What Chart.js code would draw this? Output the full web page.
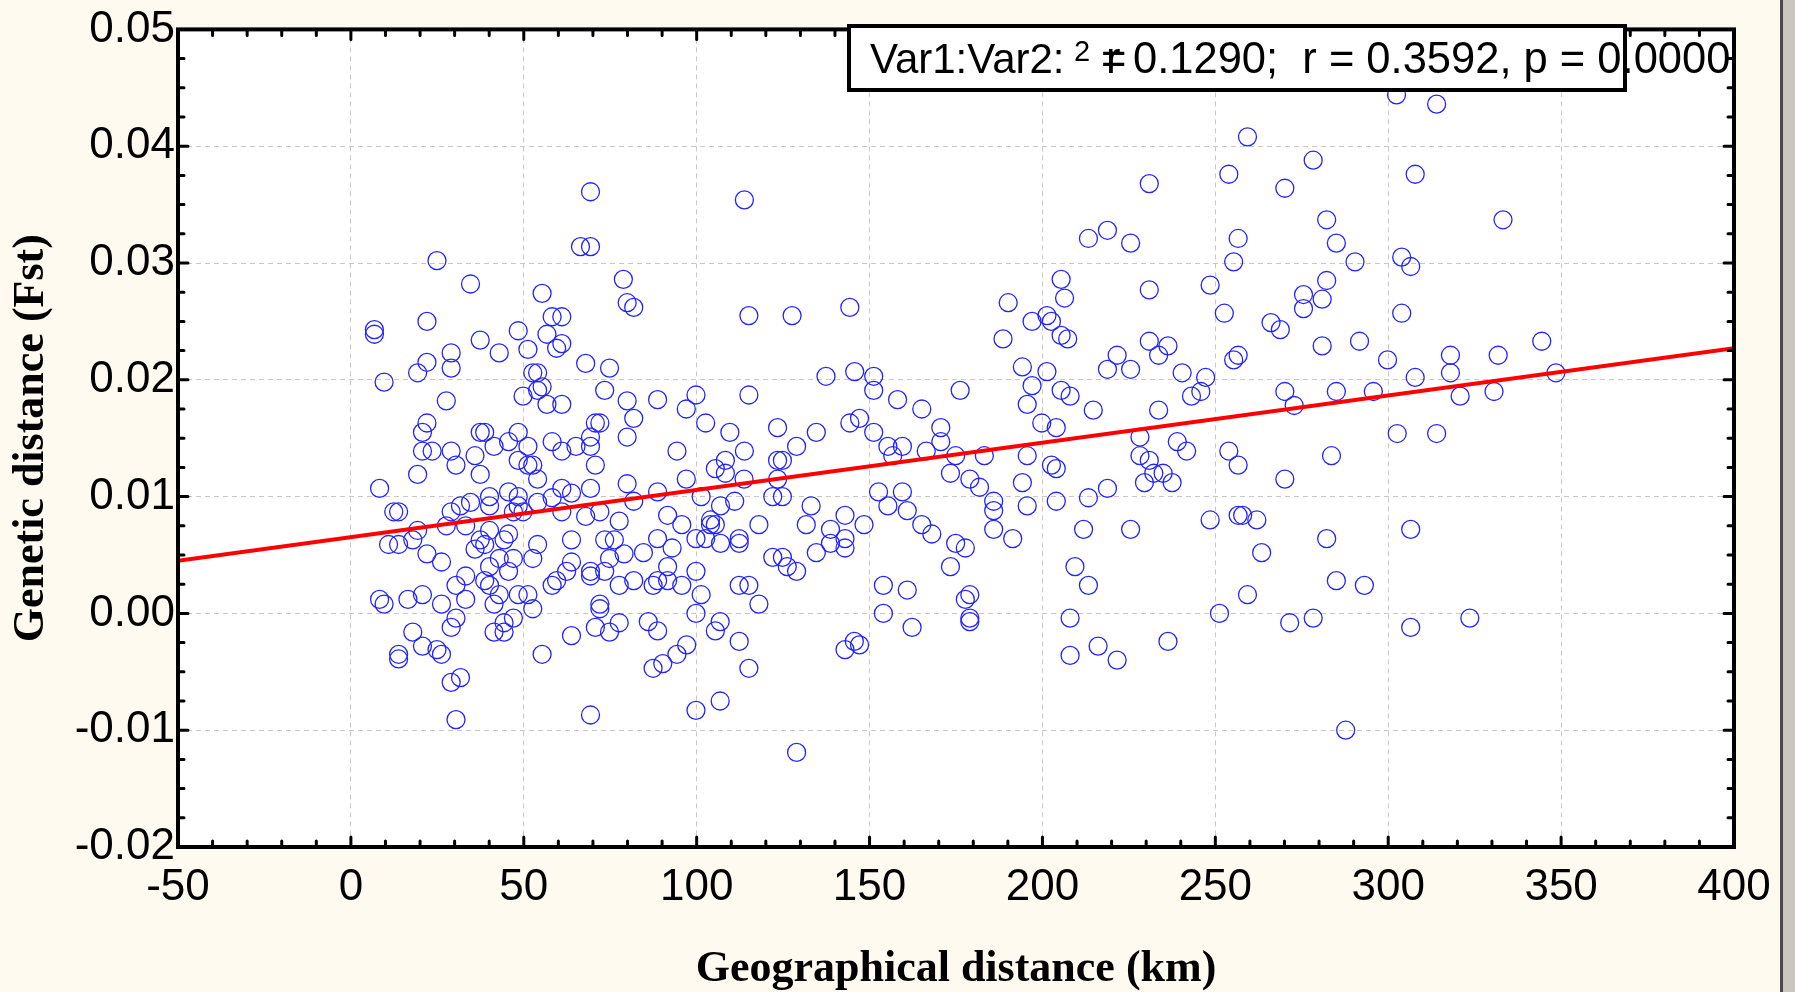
<!DOCTYPE html>
<html>
<head>
<meta charset="utf-8">
<script src="https://cdn.jsdelivr.net/npm/chart.js@4.4.1/dist/chart.umd.min.js"></script>
<style>
  html, body { margin: 0; padding: 0; background: #fffaf0; }
  #wrap { position: relative; width: 1795px; height: 992px; overflow: hidden; }
  #strip { position: absolute; left: 1780px; top: 0; width: 12px; height: 992px;
           background: #cbc6be; border-left: 3px solid #4a4a4a; }
</style>
</head>
<body>
<div id="wrap">
  <canvas id="chart" width="1795" height="992"></canvas>
  <div id="strip"></div>
</div>
<script>
// ── Data ───────────────────────────────────────────────────────────
// Geographical distance (km)
var distanceKm = [
  69.3, 66.4, 69.3, 24.9, 34.6, 78.8, 79.9, 55.3, 22.0, 6.8, 6.8, 58.2, 61.0, 48.4, 56.7, 37.4,
  59.5, 61.0, 51.2, 42.9, 29.0, 29.0, 22.0, 19.3, 9.6, 67.9, 74.8, 52.6, 54.0, 55.3, 54.0, 49.8,
  56.7, 61.0, 73.4, 79.9, 27.6, 22.0, 20.7, 37.4, 38.7, 48.4, 70.7, 72.0, 69.3, 69.3, 58.2, 61.0,
  65.1, 45.6, 41.4, 51.2, 48.4, 51.2, 52.6, 70.7, 79.9, 20.7, 23.5, 29.0, 30.4, 35.9, 37.4, 19.3,
  54.0, 8.3, 69.3, 79.9, 61.0, 63.8, 58.2, 45.6, 48.4, 40.1, 34.6, 40.1, 31.7, 29.0, 48.4, 54.0,
  47.0, 49.8, 61.0, 67.9, 72.0, 77.6, 12.4, 13.8, 33.2, 27.6, 19.3, 40.1, 45.6, 44.3, 37.4, 38.7,
  35.9, 17.9, 10.9, 13.8, 22.0, 26.2, 54.0, 52.6, 47.0, 42.9, 40.1, 45.6, 33.2, 30.4, 40.1, 38.7,
  63.8, 73.4, 76.2, 74.8, 79.0, 63.8, 62.4, 59.5, 58.2, 69.3, 69.3, 73.4, 77.6, 48.4, 51.2, 52.6,
  42.9, 41.4, 33.2, 26.2, 20.7, 16.5, 8.3, 9.6, 30.4, 29.0, 47.0, 44.3, 41.4, 44.3, 72.0, 72.0,
  70.7, 77.6, 74.8, 17.9, 63.8, 20.7, 24.9, 26.2, 13.8, 13.8, 55.3, 29.0, 31.7, 30.4, 69.3,
  113.8, 81.8, 115.1, 127.6, 144.3, 190.1, 205.4, 206.4, 197.0, 201.3, 202.6, 188.6, 205.4, 207.3,
  137.4, 145.7, 151.2, 151.2, 194.2, 201.3, 197.0, 205.4, 195.6, 176.2, 158.1, 165.1, 88.7, 99.8,
  97.0, 115.1, 81.8, 102.6, 109.6, 123.4, 134.6, 144.3, 147.1, 151.2, 170.6, 170.6, 199.8, 204.0,
  94.3, 113.8, 128.9, 123.4, 124.8, 108.3, 105.4, 108.3, 155.3, 159.5, 156.7, 166.4, 174.9, 183.2,
  195.6, 202.6, 204.0, 173.4, 179.0, 181.8, 185.9, 185.9, 185.9, 191.4, 194.2, 195.6, 204.0, 97.0,
  113.7, 123.4, 88.7, 81.8, 101.3, 111.0, 122.0, 124.8, 106.9, 133.1, 152.6, 159.5, 155.3, 160.9,
  91.6, 95.7, 104.0, 104.0, 105.4, 118.0, 131.7, 142.9, 148.4, 138.7, 165.1, 168.0, 88.7, 99.8,
  102.6, 106.9, 112.3, 112.3, 138.7, 142.9, 142.9, 92.9, 84.6, 134.6, 174.9, 177.7, 173.4, 91.6,
  122.0, 124.8, 126.2, 128.9, 99.8, 81.8, 87.4, 88.7, 91.6, 95.7, 101.3, 112.3, 115.1, 118.0,
  154.0, 160.9, 177.7, 179.0, 179.0, 179.0, 154.0, 162.3, 99.8, 86.0, 88.7, 106.8, 105.4, 112.3,
  97.1, 94.3, 90.2, 87.4, 115.1, 145.6, 147.1, 142.9, 106.8, 99.8, 128.9,
  259.3, 278.3, 253.9, 270.1, 307.8, 230.9, 213.3, 218.8, 225.5, 282.2, 285.0, 256.6, 255.3, 290.4,
  303.9, 306.5, 230.9, 248.5, 252.6, 266.1, 268.8, 275.5, 275.5, 280.9, 282.2, 303.9, 280.9, 291.7,
  299.8, 230.9, 233.6, 236.3, 221.6, 218.8, 225.5, 255.3, 256.6, 240.4, 247.2, 245.8, 243.1, 208.0,
  214.7, 233.6, 270.1, 272.8, 285.0, 295.7, 307.8, 302.6, 228.2, 239.0, 241.7, 228.2, 230.9, 229.5,
  232.2, 234.9, 237.5, 253.9, 256.6, 270.1, 283.6, 213.3, 218.8, 211.9, 225.5, 248.5, 256.6, 257.9,
  262.0, 263.4, 282.2, 306.5, 209.4, 213.3, 259.3, 251.2, 271.5, 278.3, 285.0, 293.1, 306.5, 208.0,
  208.0, 216.1, 221.6, 236.3, 287.7,
  314.0, 302.4, 333.2, 344.4, 318.0, 331.8, 318.0, 348.5, 320.8, 330.6, 314.0, 323.6
];
// Genetic distance (Fst), same order as distanceKm
var fstValues = [
  0.0361, 0.0314, 0.0314, 0.0302, 0.0282, 0.0286, 0.0266, 0.0274, 0.0250, 0.0243, 0.0239, 0.0254, 0.0254, 0.0242, 0.0239, 0.0234,
  0.0227, 0.0231, 0.0226, 0.0223, 0.0223, 0.0210, 0.0215, 0.0206, 0.0198, 0.0214, 0.0210, 0.0206, 0.0206, 0.0194, 0.0191, 0.0186,
  0.0179, 0.0179, 0.0191, 0.0182, 0.0182, 0.0163, 0.0155, 0.0155, 0.0155, 0.0155, 0.0163, 0.0163, 0.0151, 0.0143, 0.0147, 0.0139,
  0.0143, 0.0147, 0.0143, 0.0143, 0.0131, 0.0127, 0.0127, 0.0127, 0.0151, 0.0139, 0.0139, 0.0139, 0.0127, 0.0135, 0.0119, 0.0119,
  0.0115, 0.0107, 0.0107, 0.0111, 0.0107, 0.0103, 0.0099, 0.0104, 0.0100, 0.0100, 0.0095, 0.0092, 0.0092, 0.0087, 0.0092, 0.0095,
  0.0087, 0.0087, 0.0087, 0.0083, 0.0087, 0.0079, 0.0087, 0.0087, 0.0075, 0.0075, 0.0071, 0.0071, 0.0068, 0.0063, 0.0063, 0.0059,
  0.0055, 0.0063, 0.0059, 0.0059, 0.0051, 0.0044, 0.0059, 0.0047, 0.0047, 0.0047, 0.0040, 0.0036, 0.0032, 0.0024, 0.0024, 0.0028,
  0.0063, 0.0063, 0.0063, 0.0047, 0.0051, 0.0044, 0.0036, 0.0028, 0.0024, 0.0036, 0.0032, 0.0036, 0.0024, 0.0016, 0.0016, 0.0004,
  0.0016, 0.0008, 0.0012, 0.0008, 0.0016, 0.0012, 0.0012, 0.0008, -0.0004, -0.0012, -0.0004, -0.0008, -0.0016, -0.0016, 0.0008, 0.0004,
  -0.0012, -0.0008, -0.0016, -0.0016, -0.0019, -0.0028, -0.0031, -0.0035, -0.0035, -0.0039, -0.0035, -0.0059, -0.0055, -0.0091, -0.0087,
  0.0354, 0.0262, 0.0255, 0.0255, 0.0262, 0.0266, 0.0286, 0.0270, 0.0250, 0.0255, 0.0250, 0.0235, 0.0238, 0.0235,
  0.0203, 0.0207, 0.0203, 0.0191, 0.0211, 0.0207, 0.0195, 0.0191, 0.0179, 0.0191, 0.0183, 0.0175, 0.0183, 0.0187,
  0.0175, 0.0187, 0.0167, 0.0163, 0.0155, 0.0159, 0.0155, 0.0163, 0.0167, 0.0155, 0.0159, 0.0147, 0.0163, 0.0159,
  0.0139, 0.0139, 0.0143, 0.0131, 0.0131, 0.0131, 0.0124, 0.0120, 0.0143, 0.0143, 0.0135, 0.0139, 0.0135, 0.0135,
  0.0135, 0.0127, 0.0124, 0.0120, 0.0115, 0.0108, 0.0096, 0.0088, 0.0072, 0.0064, 0.0112, 0.0092, 0.0096, 0.0115,
  0.0115, 0.0115, 0.0104, 0.0096, 0.0100, 0.0096, 0.0100, 0.0100, 0.0092, 0.0092, 0.0104, 0.0104, 0.0092, 0.0088,
  0.0084, 0.0076, 0.0080, 0.0076, 0.0076, 0.0076, 0.0076, 0.0084, 0.0076, 0.0072, 0.0076, 0.0068, 0.0064, 0.0064,
  0.0064, 0.0060, 0.0064, 0.0060, 0.0060, 0.0064, 0.0056, 0.0056, 0.0052, 0.0052, 0.0060, 0.0056, 0.0040, 0.0040,
  0.0048, 0.0048, 0.0040, 0.0036, 0.0036, 0.0028, 0.0024, 0.0028, 0.0028, 0.0024, 0.0016, 0.0024, 0.0024, 0.0008,
  0.0024, 0.0020, 0.0012, 0.0016, -0.0004, -0.0007, 0.0000, -0.0012, 0.0000, -0.0007, -0.0015, -0.0007, -0.0015, -0.0024,
  -0.0027, -0.0035, -0.0043, -0.0047, -0.0047, -0.0024, -0.0027, -0.0031, -0.0075, -0.0083, -0.0119,
  0.0408, 0.0388, 0.0376, 0.0364, 0.0376, 0.0368, 0.0321, 0.0328, 0.0317, 0.0337, 0.0317, 0.0321, 0.0301, 0.0301,
  0.0305, 0.0297, 0.0277, 0.0281, 0.0257, 0.0249, 0.0243, 0.0273, 0.0261, 0.0269, 0.0285, 0.0257, 0.0229, 0.0233,
  0.0217, 0.0233, 0.0221, 0.0229, 0.0221, 0.0209, 0.0209, 0.0217, 0.0221, 0.0206, 0.0202, 0.0190, 0.0186, 0.0186,
  0.0174, 0.0174, 0.0190, 0.0178, 0.0190, 0.0190, 0.0202, 0.0154, 0.0151, 0.0147, 0.0139, 0.0135, 0.0131, 0.0112,
  0.0120, 0.0120, 0.0112, 0.0139, 0.0127, 0.0115, 0.0135, 0.0099, 0.0107, 0.0072, 0.0072, 0.0080, 0.0084, 0.0084,
  0.0080, 0.0052, 0.0064, 0.0072, 0.0040, 0.0024, 0.0016, 0.0000, -0.0008, -0.0004, 0.0028, 0.0024, -0.0012, -0.0004,
  -0.0036, -0.0028, -0.0040, -0.0024, -0.0100,
  0.0436, 0.0444, 0.0337, 0.0233, 0.0221, 0.0221, 0.0206, 0.0206, 0.0186, 0.0190, 0.0154, -0.0004
];
// Fitted regression line end points
var fitX = [-50, 400];
var fitY = [0.0045, 0.0227];
// Statistics label
var statsPrefix = 'Var1:Var2:';
var statsRest = '0.1290;  r = 0.3592, p = 0.0000';

var tickFont = "'Liberation Sans', Arial, sans-serif";
var titleFont = "'Liberation Serif', 'Times New Roman', serif";

var points = distanceKm.map(function(x, i) { return { x: x, y: fstValues[i] }; });
var fitLine = fitX.map(function(x, i) { return { x: x, y: fitY[i] }; });

// ── White plot area ────────────────────────────────────────────────
var plotBackground = {
  id: 'plotBackground',
  beforeDraw: function(chart) {
    var a = chart.chartArea, ctx = chart.ctx;
    ctx.save();
    ctx.fillStyle = '#ffffff';
    ctx.fillRect(a.left, a.top, a.right - a.left, a.bottom - a.top);
    ctx.restore();
  }
};

// ── Frame with inward ticks on all four sides ──────────────────────
var frameTicks = {
  id: 'frameTicks',
  afterDatasetsDraw: function(chart) {
    var a = chart.chartArea, ctx = chart.ctx;
    var xs = chart.scales.x, ys = chart.scales.y;
    ctx.save();
    ctx.strokeStyle = '#000';
    ctx.lineCap = 'round';
    ctx.lineWidth = 3;
    ctx.beginPath();
    for (var v = -50; v <= 400; v += 10) {
      var px = xs.getPixelForValue(v);
      var len = (v % 50 === 0) ? 10 : 6;
      ctx.moveTo(px, a.bottom); ctx.lineTo(px, a.bottom - len);
      ctx.moveTo(px, a.top); ctx.lineTo(px, a.top + len);
    }
    for (var k = 0; k <= 28; k++) {
      var py = ys.getPixelForValue(-0.02 + k * 0.0025);
      var l2 = (k % 4 === 0) ? 10 : 6;
      ctx.moveTo(a.left, py); ctx.lineTo(a.left + l2, py);
      ctx.moveTo(a.right, py); ctx.lineTo(a.right - l2, py);
    }
    ctx.stroke();
    ctx.lineWidth = 4;
    ctx.lineCap = 'butt';
    ctx.strokeRect(a.left, a.top, a.right - a.left, a.bottom - a.top);
    ctx.restore();
  }
};

// ── Statistics box (text overflows like the original) ──────────────
var statsBox = {
  id: 'statsBox',
  afterDraw: function(chart) {
    var ctx = chart.ctx;
    var bx = 849, by = 26, bw = 776, bh = 64;
    ctx.save();
    ctx.fillStyle = '#ffffff';
    ctx.fillRect(bx, by, bw, bh);
    ctx.fillStyle = '#000';
    ctx.textBaseline = 'alphabetic';
    ctx.font = '42px ' + tickFont;
    ctx.fillText(statsPrefix, 870, 73);
    ctx.font = '29px ' + tickFont;
    ctx.fillText('2', 1074, 61);
    ctx.font = '43.5px ' + tickFont;
    ctx.fillText('r', 1106, 73);
    ctx.fillText('=', 1101, 73);
    ctx.fillText(statsRest, 1133, 73);
    ctx.lineWidth = 4;
    ctx.strokeStyle = '#000';
    ctx.strokeRect(bx, by, bw, bh);
    ctx.restore();
  }
};

new Chart(document.getElementById('chart'), {
  type: 'scatter',
  data: {
    datasets: [
      {
        label: 'fit',
        data: fitLine,
        showLine: true,
        borderColor: '#ff0000',
        borderWidth: 4,
        pointRadius: 0,
        pointHoverRadius: 0
      },
      {
        label: 'pairs',
        data: points,
        pointStyle: 'circle',
        pointRadius: 9,
        pointBorderWidth: 1.3,
        pointBackgroundColor: 'rgba(0,0,0,0)',
        pointBorderColor: '#2424ff'
      }
    ]
  },
  options: {
    responsive: false,
    animation: false,
    devicePixelRatio: 1,
    layout: { padding: { top: 23, right: 61, left: 0, bottom: 0 } },
    plugins: {
      legend: { display: false },
      tooltip: { enabled: false }
    },
    scales: {
      x: {
        type: 'linear',
        min: -50,
        max: 400,
        afterFit: function(scale) { scale.height = 145; },
        ticks: {
          stepSize: 50,
          color: '#000',
          padding: 14,
          font: { family: tickFont, size: 44 },
          maxRotation: 0
        },
        grid: { color: '#c8c8c8', lineWidth: 1, drawTicks: false },
        border: { display: false, dash: [5, 4] },
        title: {
          display: true,
          text: 'Geographical distance (km)',
          color: '#000',
          padding: { top: 0, bottom: 0 },
          font: { family: titleFont, size: 44, weight: 'bold', lineHeight: 1 }
        }
      },
      y: {
        type: 'linear',
        min: -0.02,
        max: 0.05,
        afterFit: function(scale) { scale.width = 178; },
        ticks: {
          stepSize: 0.01,
          color: '#000',
          padding: 3,
          font: { family: tickFont, size: 44 },
          callback: function(v) { return Math.abs(v) < 1e-9 ? '0.00' : v.toFixed(2); }
        },
        grid: { color: '#c8c8c8', lineWidth: 1, drawTicks: false },
        border: { display: false, dash: [5, 4] },
        title: {
          display: true,
          text: 'Genetic distance (Fst)',
          color: '#000',
          padding: { top: 10, bottom: 0 },
          font: { family: titleFont, size: 44, weight: 'bold', lineHeight: 1 }
        }
      }
    }
  },
  plugins: [plotBackground, frameTicks, statsBox]
});
</script>
</body>
</html>
